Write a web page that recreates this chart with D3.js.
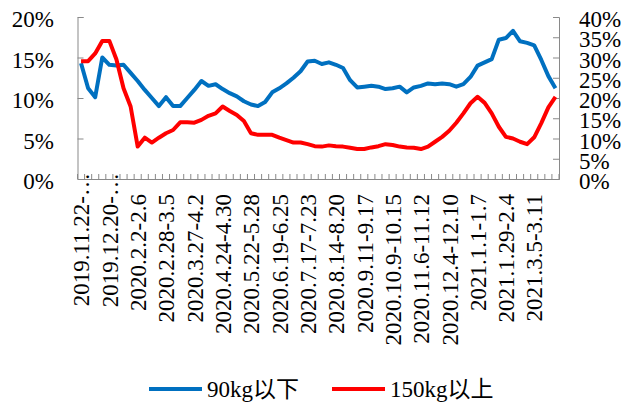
<!DOCTYPE html>
<html>
<head>
<meta charset="utf-8">
<script src="https://cdn.jsdelivr.net/npm/d3@7"></script>
<style>
  body { margin: 0; background: #fff; }
</style>
</head>
<body>
<div class="line-chart"></div>
<script>
// weekly periods
const categories = [
  "2019.11.22-11.28", "2019.11.29-12.5", "2019.12.6-12.12", "2019.12.13-12.19",
  "2019.12.20-12.26", "2019.12.27-2020.1.2", "2020.1.3-1.9", "2020.1.10-1.16",
  "2020.2.2-2.6", "2020.2.7-2.13", "2020.2.14-2.20", "2020.2.21-2.27",
  "2020.2.28-3.5", "2020.3.6-3.12", "2020.3.13-3.19", "2020.3.20-3.26",
  "2020.3.27-4.2", "2020.4.3-4.9", "2020.4.10-4.16", "2020.4.17-4.23",
  "2020.4.24-4.30", "2020.5.1-5.7", "2020.5.8-5.14", "2020.5.15-5.21",
  "2020.5.22-5.28", "2020.5.29-6.4", "2020.6.5-6.11", "2020.6.12-6.18",
  "2020.6.19-6.25", "2020.6.26-7.2", "2020.7.3-7.9", "2020.7.10-7.16",
  "2020.7.17-7.23", "2020.7.24-7.30", "2020.7.31-8.6", "2020.8.7-8.13",
  "2020.8.14-8.20", "2020.8.21-8.27", "2020.8.28-9.3", "2020.9.4-9.10",
  "2020.9.11-9.17", "2020.9.18-9.24", "2020.9.25-10.1", "2020.10.2-10.8",
  "2020.10.9-10.15", "2020.10.16-10.22", "2020.10.23-10.29", "2020.10.30-11.5",
  "2020.11.6-11.12", "2020.11.13-11.19", "2020.11.20-11.26", "2020.11.27-12.3",
  "2020.12.4-12.10", "2020.12.11-12.17", "2020.12.18-12.24", "2020.12.25-12.31",
  "2021.1.1-1.7", "2021.1.8-1.14", "2021.1.15-1.21", "2021.1.22-1.28",
  "2021.1.29-2.4", "2021.2.5-2.11", "2021.2.19-2.25", "2021.2.26-3.4",
  "2021.3.5-3.11", "2021.3.12-3.18", "2021.3.19-3.25", "2021.3.26-4.1"
];

// labels shown on the axis (every 4th week, as cut off in the original)
const shownLabels = [
  "2019.11.22-…", "2019.12.20-…", "2020.2.2-2.6", "2020.2.28-3.5", "2020.3.27-4.2",
  "2020.4.24-4.30", "2020.5.22-5.28", "2020.6.19-6.25", "2020.7.17-7.23",
  "2020.8.14-8.20", "2020.9.11-9.17", "2020.10.9-10.15", "2020.11.6-11.12",
  "2020.12.4-12.10", "2021.1.1-1.7", "2021.1.29-2.4", "2021.3.5-3.11"
];

// 90kg以下 (left axis, %)
const under90 = [
  14.3, 11.2, 10.1, 15.0, 14.1, 14.0, 14.1, 13.1, 12.1, 11.0,
  10.0, 9.0, 10.1, 9.0, 9.0, 10.0, 11.0, 12.1, 11.5, 11.7,
  11.1, 10.6, 10.2, 9.6, 9.2, 9.0, 9.5, 10.7, 11.2, 11.8,
  12.5, 13.3, 14.5, 14.6, 14.2, 14.4, 14.1, 13.7, 12.2, 11.3,
  11.4, 11.5, 11.4, 11.1, 11.2, 11.4, 10.7, 11.3, 11.5, 11.8,
  11.7, 11.8, 11.7, 11.4, 11.7, 12.6, 14.0, 14.4, 14.8, 17.2,
  17.4, 18.3, 17.0, 16.8, 16.5, 14.7, 12.7, 11.2
];

// 150kg以上 (right axis, %)
const over150 = [
  29.1, 29.1, 31.0, 34.1, 34.1, 29.5, 22.4, 17.9, 8.0, 10.2,
  9.0, 10.2, 11.3, 12.1, 14.0, 14.0, 13.9, 14.6, 15.6, 16.2,
  17.9, 16.8, 15.8, 14.3, 11.3, 10.9, 10.9, 10.9, 10.2, 9.6,
  9.0, 9.0, 8.6, 8.1, 8.0, 8.3, 8.1, 8.0, 7.7, 7.4,
  7.4, 7.8, 8.1, 8.6, 8.4, 8.0, 7.8, 7.7, 7.4, 8.0,
  9.2, 10.4, 11.9, 13.9, 16.2, 18.7, 20.3, 18.8, 16.2, 12.9,
  10.4, 10.0, 9.2, 8.6, 10.3, 13.8, 17.7, 20.3
];

const leftTicks = [0, 5, 10, 15, 20];
const rightTicks = [0, 5, 10, 15, 20, 25, 30, 35, 40];

const width = 635, height = 403;
const margin = { left: 77.5, right: 559, top: 17, bottom: 179 };
const axisColor = "#898989";
const fontSize = 23;
const serif = "'Liberation Serif', 'Noto Sans CJK SC', serif";

const svg = d3.select(".line-chart")
  .append("svg")
  .attr("width", width)
  .attr("height", height)
  .attr("font-family", serif);

const x = d3.scaleBand().domain(categories).range([margin.left, margin.right]);
const yL = d3.scaleLinear().domain([0, 20]).range([margin.bottom, margin.top]);
const yR = d3.scaleLinear().domain([0, 40]).range([margin.bottom, margin.top]);
const cx = d => x(d) + x.bandwidth() / 2;

// left axis
const gL = svg.append("g")
  .attr("transform", "translate(" + margin.left + ",0)")
  .call(d3.axisLeft(yL).tickValues(leftTicks).tickSize(-6).tickPadding(23.5).tickFormat(d => d + "%"));

// right axis
const gR = svg.append("g")
  .attr("transform", "translate(" + margin.right + ",0)")
  .call(d3.axisRight(yR).tickValues(rightTicks).tickSize(-6).tickPadding(20).tickFormat(d => d + "%"));

[gL, gR].forEach(g => {
  g.attr("font-family", serif).attr("font-size", fontSize);
  g.select(".domain").attr("stroke", axisColor);
  g.selectAll(".tick line").attr("stroke", axisColor);
  g.selectAll(".tick text").attr("dy", "0.42em");
});

// bottom axis: labels every 4th category
const gX = svg.append("g")
  .attr("transform", "translate(0," + margin.bottom + ")")
  .call(d3.axisBottom(x).tickSize(0).tickValues(categories.filter((c, i) => i % 4 === 0))
    .tickFormat(d => shownLabels[categories.indexOf(d) / 4]));
gX.attr("font-family", serif).attr("font-size", fontSize);
gX.select(".domain").attr("stroke", axisColor);
gX.selectAll(".tick text")
  .attr("text-anchor", "end")
  .attr("transform", d => "translate(0," + (shownLabels[categories.indexOf(d) / 4].endsWith("…") ? -6 : 15) + ") rotate(-90)")
  .attr("x", 0)
  .attr("y", 0)
  .attr("dy", "0.36em");

// tick marks between categories
svg.append("g")
  .selectAll("line")
  .data(categories.concat([null]))
  .enter()
  .append("line")
  .attr("x1", (d, i) => margin.left + i * x.step())
  .attr("x2", (d, i) => margin.left + i * x.step())
  .attr("y1", margin.bottom)
  .attr("y2", margin.bottom - 5)
  .attr("stroke", axisColor);

// lines
const lineL = d3.line().x((d, i) => cx(categories[i])).y(d => yL(d));
const lineR = d3.line().x((d, i) => cx(categories[i])).y(d => yR(d));

svg.append("path")
  .datum(under90)
  .attr("d", lineL)
  .attr("fill", "none")
  .attr("stroke", "#0070C0")
  .attr("stroke-width", 4)
  .attr("stroke-linejoin", "round");

svg.append("path")
  .datum(over150)
  .attr("d", lineR)
  .attr("fill", "none")
  .attr("stroke", "#FF0000")
  .attr("stroke-width", 4)
  .attr("stroke-linejoin", "round");

// legend
const legend = [
  { name: "90kg以下", color: "#0070C0", x: 149 },
  { name: "150kg以上", color: "#FF0000", x: 332 }
];
const lg = svg.selectAll(".legend")
  .data(legend)
  .enter()
  .append("g")
  .attr("class", "legend")
  .attr("transform", d => "translate(" + d.x + ",389)");
lg.append("line")
  .attr("x1", 0).attr("x2", 53)
  .attr("y1", 0).attr("y2", 0)
  .attr("stroke", d => d.color)
  .attr("stroke-width", 4);
lg.append("text")
  .attr("x", 58)
  .attr("y", 8)
  .attr("font-size", fontSize)
  .text(d => d.name);
</script>
</body>
</html>
